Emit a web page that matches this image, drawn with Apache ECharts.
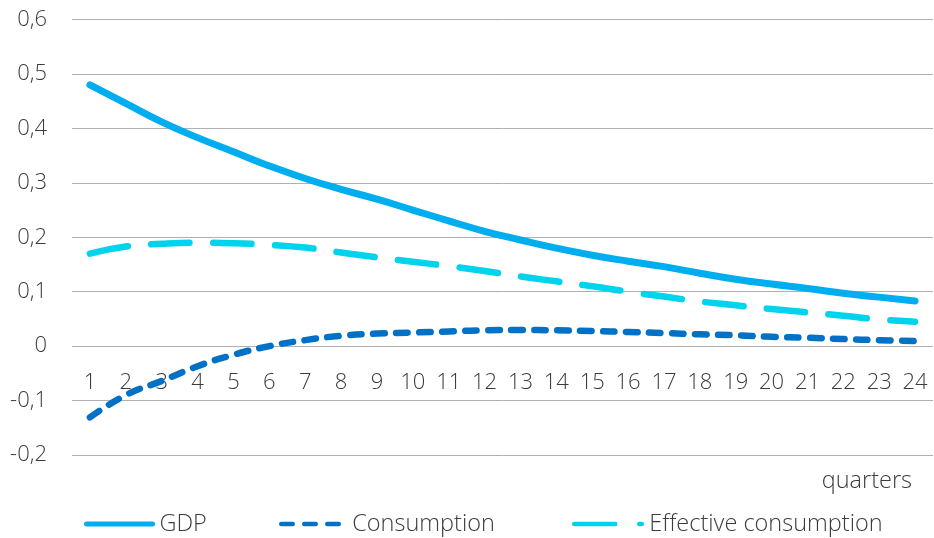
<!DOCTYPE html>
<html>
<head>
<meta charset="utf-8">
<script src="https://cdn.jsdelivr.net/npm/echarts@6/dist/echarts.min.js"></script>
<style>
  html, body { margin: 0; padding: 0; background: #ffffff; }
  #chart { width: 934px; height: 538px; }
</style>
</head>
<body>
<div id="chart"></div>
<script>
const categories = ['1','2','3','4','5','6','7','8','9','10','11','12','13','14','15','16','17','18','19','20','21','22','23','24'];
const gdp = [0.480, 0.446, 0.412, 0.383, 0.357, 0.331, 0.308, 0.288, 0.270, 0.250, 0.230, 0.211, 0.195, 0.180, 0.167, 0.156, 0.146, 0.134, 0.123, 0.114, 0.106, 0.097, 0.090, 0.083];
const consumption = [-0.131, -0.090, -0.064, -0.037, -0.016, 0.000, 0.011, 0.019, 0.023, 0.025, 0.027, 0.029, 0.0295, 0.029, 0.0277, 0.026, 0.024, 0.0217, 0.020, 0.017, 0.0155, 0.013, 0.011, 0.0095];
const effective = [0.170, 0.183, 0.188, 0.190, 0.189, 0.186, 0.181, 0.172, 0.163, 0.155, 0.147, 0.138, 0.128, 0.119, 0.110, 0.100, 0.091, 0.082, 0.075, 0.068, 0.062, 0.056, 0.049, 0.045];
const yTicks = { min: -0.2, max: 0.6, interval: 0.1 };

const FONT = '"Open Sans", "Noto Sans", sans-serif';
const TXT = '#3c3c3c';
const C_GDP = '#00aeef';
const C_CONS = '#0071c5';
const C_EFF = '#00d3ec';

const chart = echarts.init(document.getElementById('chart'));
chart.setOption({
  animation: false,
  backgroundColor: '#ffffff',
  textStyle: { fontFamily: FONT },
  grid: { left: 72, right: 1, top: 19.5, bottom: 83, containLabel: false },
  xAxis: {
    type: 'category',
    data: categories,
    boundaryGap: true,
    axisLine: { show: false, onZero: false },
    axisTick: { show: false },
    axisLabel: { interval: 0, margin: -83, fontSize: 22, fontWeight: 300, color: TXT, fontFamily: FONT }
  },
  yAxis: {
    type: 'value',
    min: yTicks.min, max: yTicks.max, interval: yTicks.interval,
    axisLine: { show: false },
    axisTick: { show: false },
    splitLine: { lineStyle: { color: '#b0b0b0', width: 1 } },
    axisLabel: {
      margin: 25, fontSize: 22, fontWeight: 300, color: TXT, fontFamily: FONT,
      formatter: v => { const r = Math.round(v * 10) / 10; return r === 0 ? '0' : r.toFixed(1).replace('.', ','); }
    }
  },
  legend: [
    { data: ['GDP'], left: 84, top: 512, padding: 0, itemWidth: 66, itemHeight: 14,
      itemStyle: { opacity: 0 },
      textStyle: { fontSize: 23.5, fontWeight: 300, color: TXT, fontFamily: FONT, padding: [0, 0, 0, 2] },
      lineStyle: { cap: 'round', width: 5, color: C_GDP } },
    { data: ['Consumption'], left: 279, top: 512, padding: 0, itemWidth: 60, itemHeight: 14,
      itemStyle: { opacity: 0 },
      textStyle: { fontSize: 23.5, fontWeight: 300, color: TXT, fontFamily: FONT, padding: [0, 0, 0, 6] },
      lineStyle: { cap: 'round', width: 4.5, color: C_CONS, type: [11.5, 11.5] } },
    { data: ['Effective consumption'], left: 572, top: 512, padding: 0, itemWidth: 68, itemHeight: 14,
      itemStyle: { opacity: 0 },
      textStyle: { fontSize: 23.5, fontWeight: 300, color: TXT, fontFamily: FONT, padding: [0, 0, 0, 2] },
      lineStyle: { cap: 'round', width: 4.5, color: C_EFF, type: [41, 24, 2.5, 100] } }
  ],
  graphic: [{
    type: 'text', right: 22, top: 469,
    style: { text: 'quarters', fontSize: 23.5, fontWeight: 300, fill: TXT, fontFamily: FONT }
  }],
  series: [
    { name: 'GDP', type: 'line', data: gdp, smooth: true, symbol: 'none', z: 3,
      itemStyle: { color: C_GDP },
      lineStyle: { color: C_GDP, width: 7, cap: 'round', join: 'round' } },
    { name: 'Consumption', type: 'line', data: consumption, smooth: true, symbol: 'none', z: 2,
      itemStyle: { color: C_CONS },
      lineStyle: { color: C_CONS, width: 6.5, type: [11.5, 11.5], cap: 'round', join: 'round' } },
    { name: 'Effective consumption', type: 'line', data: effective, smooth: true, symbol: 'none', z: 2,
      itemStyle: { color: C_EFF },
      lineStyle: { color: C_EFF, width: 6.5, type: [38.5, 23.5], cap: 'round', join: 'round' } }
  ]
});
</script>
</body>
</html>
